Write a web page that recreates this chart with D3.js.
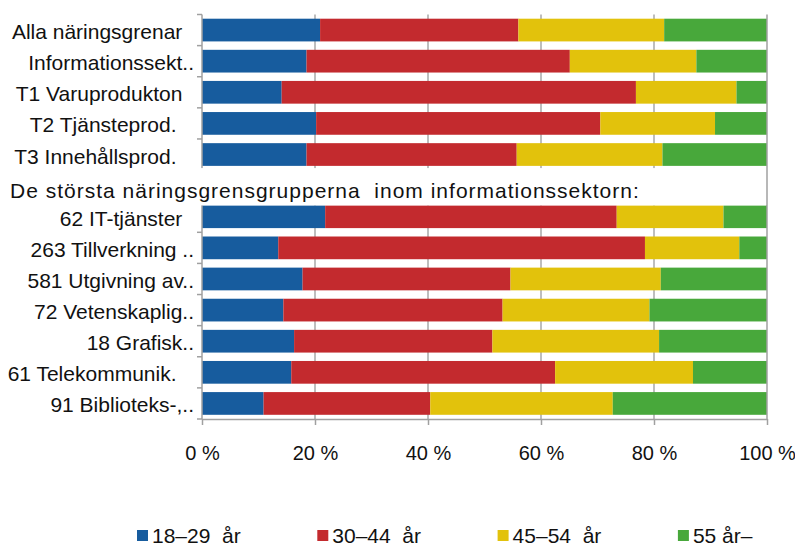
<!DOCTYPE html>
<html>
<head>
<meta charset="utf-8">
<script src="https://cdn.jsdelivr.net/npm/d3@7"></script>
<style>
  html, body { margin: 0; padding: 0; background: #fff; }
  svg { display: block; font-family: "Liberation Sans", Arial, sans-serif; }
  .lbl { font-size: 21px; fill: #111; white-space: pre; }
  .tick-text { font-size: 20px; fill: #111; }
  .grid-line { stroke: #a8a8a8; stroke-width: 1.5; }
  .axis-line { stroke: #a0a0a0; stroke-width: 1.5; fill: none; }
</style>
</head>
<body>
<svg id="chart" width="795" height="547"></svg>
<script>
// Category labels, top to bottom (trailing spaces as in the original labels)
const categories = [
  'Alla näringsgrenar  ',
  'Informationssekt..',
  'T1 Varuprodukton  ',
  'T2 Tjänsteprod.   ',
  'T3 Innehållsprod.   ',
  'HEADING',
  '62 IT-tjänster  ',
  '263 Tillverkning ..',
  '581 Utgivning av..',
  '72 Vetenskaplig..',
  '18 Grafisk..',
  '61 Telekommunik.   ',
  '91 Biblioteks-,..'
];
const headingText = 'De största näringsgrensgrupperna  inom informationssektorn:';

// Share of employed by age group, %
const age1829 = [20.9, 18.5, 14.1, 20.2, 18.5, null, 21.8, 13.5, 17.8, 14.4, 16.3, 15.8, 10.9];
const age3044 = [35.1, 46.6, 62.7, 50.3, 37.2, null, 51.6, 64.9, 36.8, 38.8, 35.1, 46.7, 29.5];
const age4554 = [25.8, 22.4, 17.8, 20.3, 25.8, null, 18.9, 16.7, 26.6, 26.0, 29.5, 24.4, 32.3];
const age55   = [18.2, 12.5,  5.4,  9.2, 18.5, null,  7.7,  4.9, 18.8, 20.8, 19.1, 13.1, 27.3];

const seriesNames = ['18–29  år', '30–44  år', '45–54  år', '55 år–'];
const seriesColors = ['#175c9e', '#c32a2e', '#e2c20c', '#48a83b'];
const xTicks = [0, 20, 40, 60, 80, 100];

// ── build rows ────────────────────────────────────────────────
const keys = ['a', 'b', 'c', 'd'];
const rows = categories.map((c, i) => ({
  cat: c, a: age1829[i], b: age3044[i], c: age4554[i], d: age55[i]
})).filter(r => r.a != null);

const stacked = d3.stack().keys(keys)(rows);

// ── chart setup ───────────────────────────────────────────────
const svg = d3.select('#chart');
const pLeft = 202, pRight = 767, pTop = 14.5, pBottom = 419;

const x = d3.scaleLinear().domain([0, 100]).range([pLeft, pRight]);
const y = d3.scaleBand().domain(categories).range([pTop, pBottom])
  .paddingInner(0.27).paddingOuter(0.135);
const off = (y.step() - y.bandwidth()) / 2;

// grid
svg.append('g')
  .selectAll('line')
  .data(xTicks.filter(d => d > 0 && d < 100))
  .join('line').attr('class', 'grid-line')
  .attr('x1', d => x(d)).attr('x2', d => x(d))
  .attr('y1', pTop).attr('y2', pBottom);

// bars
svg.append('g')
  .selectAll('g')
  .data(stacked)
  .join('g')
  .attr('fill', (d, i) => seriesColors[i])
  .selectAll('rect')
  .data(d => d)
  .join('rect')
  .attr('x', d => x(d[0]))
  .attr('width', d => x(d[1]) - x(d[0]))
  .attr('y', d => y(d.data.cat))
  .attr('height', y.bandwidth());

// right border
svg.append('line').attr('class', 'axis-line')
  .attr('x1', pRight).attr('x2', pRight).attr('y1', pTop).attr('y2', pBottom);

// left axis line with ticks between categories
svg.append('line').attr('class', 'axis-line')
  .attr('x1', pLeft).attr('x2', pLeft).attr('y1', pTop).attr('y2', pBottom);

const bounds = categories.map(c => y(c) - off).concat([pBottom]);
svg.append('g')
  .selectAll('line')
  .data(bounds)
  .join('line').attr('class', 'axis-line')
  .attr('x1', pLeft - 5).attr('x2', pLeft)
  .attr('y1', d => d).attr('y2', d => d);

// bottom axis
const xAxis = svg.append('g')
  .attr('transform', `translate(0,${pBottom})`)
  .call(d3.axisBottom(x).tickValues(xTicks).tickFormat(d => d + ' %')
    .tickSizeInner(6).tickSizeOuter(0).tickPadding(21));
xAxis.attr('font-family', null).attr('font-size', null);
xAxis.select('.domain').attr('class', 'axis-line').attr('stroke', null);
xAxis.selectAll('.tick line').attr('class', 'axis-line').attr('stroke', null);
xAxis.selectAll('text').attr('class', 'tick-text').attr('fill', null);

// category labels
svg.append('g')
  .selectAll('text')
  .data(categories.filter(c => c !== 'HEADING'))
  .join('text').attr('class', 'lbl')
  .attr('x', 194)
  .attr('y', d => y(d) + y.bandwidth() / 2 + 9)
  .attr('text-anchor', 'end')
  .text(d => d);

// group heading over its own slot, on white ground
const hy = y('HEADING');
svg.append('rect')
  .attr('x', 0).attr('width', pRight - 1)
  .attr('y', hy - off - 2).attr('height', y.step() + off + 2)
  .attr('fill', '#fff');
svg.append('text').attr('class', 'lbl')
  .attr('x', 10).attr('y', hy + y.bandwidth() / 2 + 12)
  .attr('letter-spacing', 1)
  .text(headingText);

// legend
const leg = svg.append('g').selectAll('g')
  .data(seriesNames)
  .join('g')
  .attr('transform', (d, i) => `translate(${137 + i * 180.3},530)`);
leg.append('rect').attr('width', 11).attr('height', 11)
  .attr('fill', (d, i) => seriesColors[i]);
leg.append('text').attr('class', 'lbl')
  .attr('x', 15).attr('y', 13)
  .text(d => d);
</script>
</body>
</html>
